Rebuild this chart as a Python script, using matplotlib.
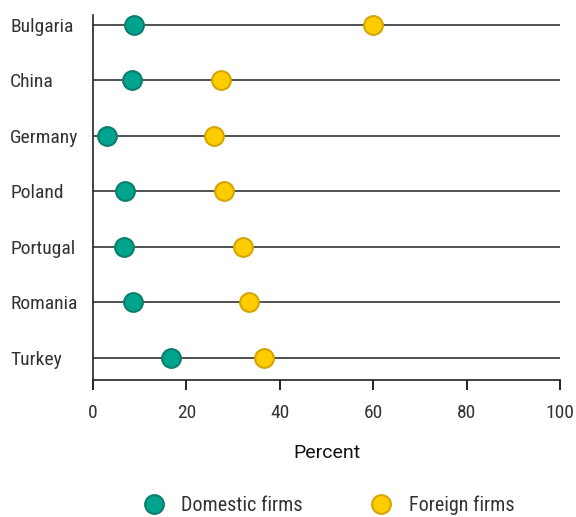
import matplotlib
matplotlib.use("Agg")
import matplotlib.pyplot as plt
from matplotlib import font_manager as fm
from matplotlib.lines import Line2D

names = {f.name for f in fm.fontManager.ttflist}
fam = [n for n in ["Roboto Condensed", "Liberation Sans Narrow", "Roboto", "DejaVu Sans"] if n in names]
plt.rcParams['font.family'] = fam

countries = ["Bulgaria", "China", "Germany", "Poland", "Portugal", "Romania", "Turkey"]
domestic = [8.8, 8.4, 3.0, 6.9, 6.6, 8.6, 16.7]
foreign = [60.0, 27.4, 25.9, 28.1, 32.1, 33.4, 36.6]
xticks = [0, 20, 40, 60, 80, 100]

teal, teal_e = "#00A38C", "#0B7F6C"
yel, yel_e = "#FFCC00", "#D4A600"

fs = 14
fig = plt.figure(figsize=(5.76, 5.17), dpi=100)
ax = fig.add_axes([93/576, 1-380/517, (560-93)/576, (380-15)/517])
pos = list(range(len(countries)))
for p in pos:
    ax.axhline(p, color="#333333", lw=1.2, zorder=1)
ax.plot(domestic, pos, "o", ms=13.5, mfc=teal, mec=teal_e, mew=1.5, ls="none", zorder=3, clip_on=False)
ax.plot(foreign, pos, "o", ms=13.5, mfc=yel, mec=yel_e, mew=1.5, ls="none", zorder=3, clip_on=False)

ax.set_xlim(0, 100)
ax.set_ylim(6.40, -0.18)
ax.set_xticks(xticks)
ax.set_xticklabels([str(x) for x in xticks], fontsize=fs, color="#333333")
ax.set_yticks(pos)
ax.set_yticklabels(countries, fontsize=fs, color="#333333", ha="left")
ax.tick_params(axis="y", length=0, pad=(93-10)*0.72)
ax.tick_params(axis="x", length=7, width=1.2, direction="out", pad=10)
for s in ["top", "right"]:
    ax.spines[s].set_visible(False)
for s in ["left", "bottom"]:
    ax.spines[s].set_linewidth(1.2)
    ax.spines[s].set_color("#222222")
ax.set_xlabel("Percent", fontsize=14, labelpad=16, color="#111111", family=["Roboto", "DejaVu Sans"])

handles = [Line2D([], [], marker="o", ls="none", ms=13.5, mfc=teal, mec=teal_e, mew=1.5),
           Line2D([], [], marker="o", ls="none", ms=13.5, mfc=yel, mec=yel_e, mew=1.5)]
fig.legend(handles, ["Domestic firms", "Foreign firms"], loc="center", bbox_to_anchor=(324/576, 1-505/517),
           ncol=2, frameon=False, fontsize=14.5, columnspacing=2.9, handletextpad=0.35,
           labelcolor="#333333")

fig.savefig("out.png", dpi=100)
